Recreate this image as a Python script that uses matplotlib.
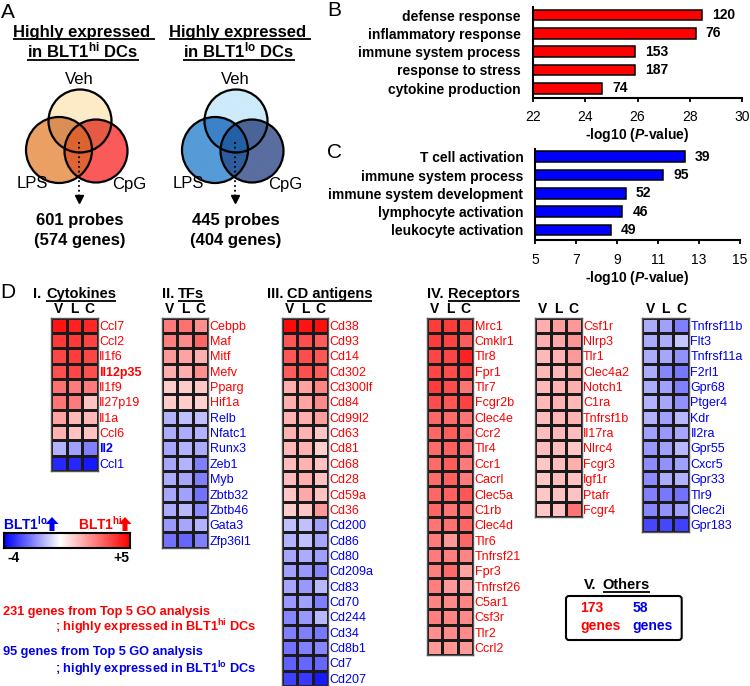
import numpy as np
import matplotlib
matplotlib.use('Agg')
import matplotlib.pyplot as plt
from matplotlib import font_manager
from matplotlib.colors import LinearSegmentedColormap, TwoSlopeNorm, to_rgba
from matplotlib.patches import Circle, FancyArrow, FancyBboxPatch

plt.rcParams['font.family'] = ['Liberation Sans', 'DejaVu Sans']
plt.rcParams['mathtext.fontset'] = 'custom'
plt.rcParams['mathtext.rm'] = 'Liberation Sans:bold'
plt.rcParams['mathtext.bf'] = 'Liberation Sans:bold'
plt.rcParams['mathtext.it'] = 'Liberation Sans:italic:bold'

# gene names in the original use a narrow face
try:
    font_manager.findfont(font_manager.FontProperties(family='Liberation Sans Narrow'),
                          fallback_to_default=False)
    GENE_FONT, GENE_SIZE = ['Liberation Sans Narrow', 'Liberation Sans'], 10.4
except ValueError:
    GENE_FONT, GENE_SIZE = ['Liberation Sans'], 9.0

W, H = 750, 686
RED = '#ff0000'
BLUE = '#0000ee'

# ---------------- data ----------------
hi_terms = ['defense response', 'inflammatory response', 'immune system process',
            'response to stress', 'cytokine production']
hi_logp = [28.46, 28.23, 25.90, 25.92, 24.65]
hi_counts = [120, 76, 153, 187, 74]

lo_terms = ['T cell activation', 'immune system process', 'immune system development',
            'lymphocyte activation', 'leukocyte activation']
lo_logp = [12.32, 11.26, 9.42, 9.26, 8.69]
lo_counts = [39, 95, 52, 46, 49]

cyto_genes = ['Ccl7', 'Ccl2', 'Il1f6', 'Il12p35', 'Il1f9', 'Il27p19', 'Il1a', 'Ccl6', 'Il2', 'Ccl1']
cyto_vals = [[4.6, 4.3, 4.2], [3.9, 3.9, 3.7], [3.6, 3.8, 3.6], [3.4, 3.6, 3.4],
             [2.8, 2.6, 2.6], [2.7, 2.6, 1.2], [1.8, 1.4, 1.4], [1.5, 1.2, 1.2],
             [-1.2, -1.5, -2.0], [-3.4, -3.4, -3.6]]

tf_genes = ['Cebpb', 'Maf', 'Mitf', 'Mefv', 'Pparg', 'Hif1a', 'Relb', 'Nfatc1', 'Runx3',
            'Zeb1', 'Myb', 'Zbtb32', 'Zbtb46', 'Gata3', 'Zfp36l1']
tf_vals = [[2.6, 2.8, 2.2], [2.5, 2.3, 3.0], [2.0, 1.8, 1.6], [1.6, 1.6, 2.2],
           [1.0, 1.0, 1.1], [1.0, 1.0, 0.9], [-1.2, -1.0, -1.0], [-1.3, -1.3, -1.2],
           [-1.4, -1.2, -1.3], [-1.4, -1.2, -2.0], [-1.3, -1.4, -2.0], [-1.4, -1.5, -2.2],
           [-1.3, -1.1, -1.8], [-1.6, -1.4, -1.2], [-2.2, -2.4, -2.0]]

cd_genes = ['Cd38', 'Cd93', 'Cd14', 'Cd302', 'Cd300lf', 'Cd84', 'Cd99l2', 'Cd63', 'Cd81',
            'Cd68', 'Cd28', 'Cd59a', 'Cd36', 'Cd200', 'Cd86', 'Cd80', 'Cd209a', 'Cd83',
            'Cd70', 'Cd244', 'Cd34', 'Cd8b1', 'Cd7', 'Cd207']
cd_vals = [[4.8, 4.6, 4.7], [3.3, 3.5, 3.2], [3.3, 3.5, 3.3], [3.2, 3.4, 3.2],
           [1.6, 1.8, 2.4], [1.6, 1.8, 2.3], [1.5, 1.6, 1.9], [1.5, 1.5, 1.1],
           [1.4, 1.5, 0.9], [1.3, 1.5, 1.2], [1.3, 1.6, 1.2], [1.1, 1.7, 1.2],
           [1.0, 1.1, 2.0], [-1.0, -1.0, -1.5], [-1.2, -1.0, -1.4], [-1.4, -1.3, -1.5],
           [-1.5, -1.6, -1.9], [-1.4, -1.6, -1.1], [-1.6, -1.5, -2.0], [-1.9, -1.6, -1.1],
           [-2.0, -2.0, -2.1], [-2.2, -2.0, -1.9], [-2.5, -2.4, -2.4], [-3.0, -3.1, -3.6]]

rec1_genes = ['Mrc1', 'Cmklr1', 'Tlr8', 'Fpr1', 'Tlr7', 'Fcgr2b', 'Clec4e', 'Ccr2', 'Tlr4',
              'Ccr1', 'Cacrl', 'Clec5a', 'C1rb', 'Clec4d', 'Tlr6', 'Tnfrsf21', 'Fpr3',
              'Tnfrsf26', 'C5ar1', 'Csf3r', 'Tlr2', 'Ccrl2']
rec1_vals = [[3.8, 3.8, 3.7], [3.8, 3.7, 3.2], [3.6, 3.6, 4.3], [3.6, 3.5, 3.6],
             [3.8, 3.5, 2.7], [3.5, 3.3, 3.7], [3.0, 2.9, 2.7], [3.0, 3.2, 2.8],
             [2.9, 3.1, 2.8], [2.9, 3.2, 2.6], [2.9, 3.1, 2.6], [3.0, 3.1, 3.3],
             [3.0, 2.7, 2.8], [2.7, 2.8, 3.0], [2.6, 2.0, 3.0], [2.6, 2.5, 2.4],
             [2.5, 2.9, 1.8], [2.5, 2.0, 1.9], [2.4, 2.3, 2.4], [2.5, 2.4, 2.3],
             [2.2, 2.3, 2.3], [2.0, 2.1, 2.0]]

rec2_genes = ['Csf1r', 'Nlrp3', 'Tlr1', 'Clec4a2', 'Notch1', 'C1ra', 'Tnfrsf1b', 'Il17ra',
              'Nlrc4', 'Fcgr3', 'Igf1r', 'Ptafr', 'Fcgr4']
rec2_vals = [[1.6, 1.9, 2.0], [1.6, 1.7, 2.1], [1.4, 1.5, 2.0], [1.4, 1.4, 1.7],
             [1.4, 1.5, 1.6], [1.4, 1.5, 1.4], [1.3, 1.4, 1.5], [1.3, 1.4, 1.3],
             [1.3, 1.3, 1.1], [1.1, 1.3, 1.6], [1.1, 1.3, 1.2], [1.1, 1.2, 1.2],
             [1.1, 1.2, 2.7]]

rec3_genes = ['Tnfrsf11b', 'Flt3', 'Tnfrsf11a', 'F2rl1', 'Gpr68', 'Ptger4', 'Kdr', 'Il2ra',
              'Gpr55', 'Cxcr5', 'Gpr33', 'Tlr9', 'Clec2i', 'Gpr183']
rec3_vals = [[-1.3, -1.5, -2.0], [-1.3, -1.3, -0.9], [-1.3, -1.4, -1.7], [-1.3, -1.9, -2.1],
             [-1.3, -1.5, -2.0], [-1.2, -1.4, -1.7], [-1.2, -1.5, -1.1], [-1.5, -1.6, -1.4],
             [-1.6, -1.5, -1.1], [-1.8, -1.7, -1.5], [-1.8, -1.3, -1.2], [-2.0, -2.1, -2.2],
             [-1.9, -1.7, -1.5], [-2.9, -2.9, -3.0]]

bold_genes = ['Il12p35', 'Il2']
conditions = ['V', 'L', 'C']
others_hi, others_lo = 173, 58
probes = [(601, 574), (445, 404)]

cmap = LinearSegmentedColormap.from_list('bwr2', ['#0000ff', '#ffffff', '#ff0000'])
norm = TwoSlopeNorm(vmin=-4, vcenter=0, vmax=5)

# ---------------- figure ----------------
fig = plt.figure(figsize=(W / 100, H / 100), dpi=100)


def px_axes(left, top, right, bottom):
    return fig.add_axes([left / W, 1 - bottom / H, (right - left) / W, (bottom - top) / H])


ov = px_axes(0, 0, W, H)
ov.axis('off')
underlined = []


def utext(x, y, s, **kw):
    t = ov.text(x, y, s, va='baseline', fontweight='bold', **kw)
    underlined.append((t, y + 2.2))
    return t


# ---- panel A ----
ov.text(8, 12, 'A', fontsize=15, ha='center', va='center')
venn_cols = [
    {(1, 0, 0): '#fdebc8', (0, 1, 0): '#eba064', (0, 0, 1): '#fa5a5a',
     (1, 1, 0): '#d98f55', (1, 0, 1): '#e65a46', (0, 1, 1): '#e06434', (1, 1, 1): '#dc6430'},
    {(1, 0, 0): '#cdebfa', (0, 1, 0): '#559bd7', (0, 0, 1): '#5a6ea0',
     (1, 1, 0): '#3c82c8', (1, 0, 1): '#4a6498', (0, 1, 1): '#2f5c9c', (1, 1, 1): '#2360a5'},
]
for k, (cx, sup) in enumerate([(79, 'hi'), (235, 'lo')]):
    utext(cx + 5, 37, 'Highly expressed ', fontsize=12, ha='center')
    utext(cx + 4, 57.5, 'in BLT1$^{\\mathbf{%s}}$ DCs' % sup, fontsize=12, ha='center')
    circles = [(cx + 1, 121, 31.5), (cx - 20, 150, 33), (cx + 17, 151, 31.5)]
    x0, x1, y0, y1 = cx - 60, cx + 60, 85, 190
    xs = np.linspace(x0, x1, 481)
    ys = np.linspace(y0, y1, 421)
    X, Y = np.meshgrid(xs, ys)
    inside = [((X - a) ** 2 + (Y - b) ** 2 <= r ** 2).astype(int) for a, b, r in circles]
    img = np.zeros(X.shape + (4,))
    for key, col in venn_cols[k].items():
        m = (inside[0] == key[0]) & (inside[1] == key[1]) & (inside[2] == key[2])
        img[m] = to_rgba(col)
    ov.imshow(img, extent=(x0, x1, y1, y0), interpolation='bilinear', zorder=1, aspect='auto')
    for a, b, r in circles:
        ov.add_patch(Circle((a, b), r, fc='none', ec='k', lw=1.6, zorder=2))
    ov.plot([cx, cx], [142, 195], color='k', ls=':', lw=1.3, zorder=3)
    ov.plot(cx, 199, marker='v', ms=6, color='k', zorder=3)
    ov.text(cx, 80, 'Veh', fontsize=12, ha='center', va='center')
    ov.text(cx - 47, 184, 'LPS', fontsize=12, ha='center', va='center')
    ov.text(cx + 50, 184, 'CpG', fontsize=12, ha='center', va='center')
    ov.text(cx + 1, 220, '%d probes' % probes[k][0], fontsize=12, fontweight='bold',
            ha='center', va='center')
    ov.text(cx + 1, 240, '(%d genes)' % probes[k][1], fontsize=12, fontweight='bold',
            ha='center', va='center')


# ---- panels B, C ----
def go_bars(ax, terms, vals, counts, color, xmin, xmax, ticks, pad, tpad):
    y = np.arange(len(terms))
    v = np.array(vals)
    ax.barh(y, v - xmin, left=xmin, height=0.58, color=color, edgecolor='k', lw=1.1)
    for i, c in enumerate(counts):
        ax.annotate(str(c), xy=(v[i], i), xytext=(7.2, 0), textcoords='offset points',
                    va='center', ha='left', fontsize=10, fontweight='bold')
    ax.set_xlim(xmin, xmax)
    ax.set_ylim(len(terms) - 0.45, -0.45)
    ax.set_yticks(y)
    ax.set_yticklabels(terms, fontsize=10, fontweight='bold')
    ax.tick_params(axis='y', length=0, pad=pad)
    ax.set_xticks(ticks)
    ax.tick_params(axis='x', length=3, width=1.3, labelsize=10, pad=tpad)
    for s in ['top', 'right']:
        ax.spines[s].set_visible(False)
    for s in ['left', 'bottom']:
        ax.spines[s].set_linewidth(1.5)
    ax.set_xlabel('-log10 ($\\mathit{P}$-value)', fontsize=10, fontweight='bold', labelpad=1.5)


axB = px_axes(533, 6.8, 742, 98.3)
go_bars(axB, hi_terms, hi_logp, hi_counts, RED, 22, 30, range(22, 31, 2), 9.0, 5.5)
axC = px_axes(535, 148.5, 740, 240)
go_bars(axC, lo_terms, lo_logp, lo_counts, '#0000ff', 5, 15, range(5, 16, 2), 8.4, 6.5)
ov.text(334, 11, 'B', fontsize=15, ha='center', va='center')
ov.text(335, 153, 'C', fontsize=15, ha='center', va='center')

# ---- panel D heatmaps ----
ov.text(8, 292, 'D', fontsize=15, ha='center', va='center')
ROW = 15.35
TOP = 317.5


def heatmap(left, genes, vals):
    v = np.array(vals)
    n = len(genes)
    ax = px_axes(left, TOP, left + 46.5, TOP + n * ROW)
    ax.pcolormesh(v, cmap=cmap, norm=norm, edgecolors='#1a1a1a', linewidth=0.9)
    ax.set_xlim(0, 3)
    ax.set_ylim(n, 0)
    ax.set_xticks(np.arange(3) + 0.5)
    ax.set_xticklabels(conditions, fontsize=10, fontweight='bold')
    ax.xaxis.tick_top()
    ax.set_yticks(np.arange(n) + 0.5)
    ax.set_yticklabels(genes, fontsize=GENE_SIZE, family=GENE_FONT)
    ax.yaxis.tick_right()
    ax.tick_params(length=0, pad=1.2)
    for lab, g, row in zip(ax.get_yticklabels(), genes, v):
        lab.set_color(RED if row.mean() > 0 else BLUE)
        if g in bold_genes:
            lab.set_fontweight('bold')
    for s in ax.spines.values():
        s.set_color('#555555')
        s.set_linewidth(1.0)
    return ax


heatmap(51, cyto_genes, cyto_vals)
heatmap(161.7, tf_genes, tf_vals)
heatmap(281.7, cd_genes, cd_vals)
heatmap(426.7, rec1_genes, rec1_vals)
heatmap(535, rec2_genes, rec2_vals)
heatmap(642.3, rec3_genes, rec3_vals)

for (xa, xb, a, b) in [(33, 46, 'I.', 'Cytokines'), (162, 178.3, 'II.', 'TFs'),
                       (266.7, 286.7, 'III.', 'CD antigens'), (426.7, 448.3, 'IV.', 'Receptors')]:
    ov.text(xa, 298.3, a, fontsize=10.5, fontweight='bold', va='baseline')
    utext(xb, 298.3, b, fontsize=10.5)

# ---- V. Others ----
ov.text(584, 589.3, 'V.', fontsize=10.5, fontweight='bold', va='baseline')
utext(602.7, 589.3, 'Others', fontsize=10.5)
ov.add_patch(FancyBboxPatch((566, 596), 115.7, 44, boxstyle='round,pad=0,rounding_size=3',
                            fc='none', ec='k', lw=1.5))
ov.text(580, 607.7, str(others_hi), color=RED, fontsize=10, fontweight='bold', va='center')
ov.text(580, 625.7, 'genes', color=RED, fontsize=10, fontweight='bold', va='center')
ov.text(632.3, 607.7, str(others_lo), color=BLUE, fontsize=10, fontweight='bold', va='center')
ov.text(632.3, 625.7, 'genes', color=BLUE, fontsize=10, fontweight='bold', va='center')

# ---- colour scale ----
cax = px_axes(4, 533.3, 130, 548.3)
cax.imshow(np.linspace(-4, 5, 256)[None, :], cmap=cmap, norm=norm, aspect='auto')
cax.set_xticks([])
cax.set_yticks([])
for s in cax.spines.values():
    s.set_linewidth(1.5)
ov.text(7, 557.7, '-4', fontsize=10, fontweight='bold', va='center', ha='left')
ov.text(129, 557.7, '+5', fontsize=10, fontweight='bold', va='center', ha='right')
ov.text(3, 524, 'BLT1$^{\\mathbf{lo}}$', color=BLUE, fontsize=10, fontweight='bold', va='center')
ov.text(78, 524, 'BLT1$^{\\mathbf{hi}}$', color=RED, fontsize=10, fontweight='bold', va='center')
for xa, col in [(52, BLUE), (125, RED)]:
    ov.add_patch(FancyArrow(xa, 531, 0, -14, width=5, head_width=13, head_length=7,
                            length_includes_head=True, color=col, lw=0))

ov.text(3, 611.7, '231 genes from Top 5 GO analysis', color=RED, fontsize=9.2,
        fontweight='bold', va='center')
ov.text(55, 626.7, '; highly expressed in BLT1$^{\\mathbf{hi}}$ DCs', color=RED, fontsize=9.2,
        fontweight='bold', va='center')
ov.text(3, 652.3, '95 genes from Top 5 GO analysis', color=BLUE, fontsize=9.2,
        fontweight='bold', va='center')
ov.text(55, 669, '; highly expressed in BLT1$^{\\mathbf{lo}}$ DCs', color=BLUE, fontsize=9.2,
        fontweight='bold', va='center')

ov.set_xlim(0, W)
ov.set_ylim(H, 0)

# underlines need the text extents
fig.canvas.draw()
rend = fig.canvas.get_renderer()
for t, yl in underlined:
    bb = t.get_window_extent(rend)
    ov.plot([bb.x0, bb.x1], [yl, yl], color=t.get_color(), lw=1.3, solid_capstyle='butt')
ov.set_xlim(0, W)
ov.set_ylim(H, 0)

fig.savefig('out.png', dpi=100)
